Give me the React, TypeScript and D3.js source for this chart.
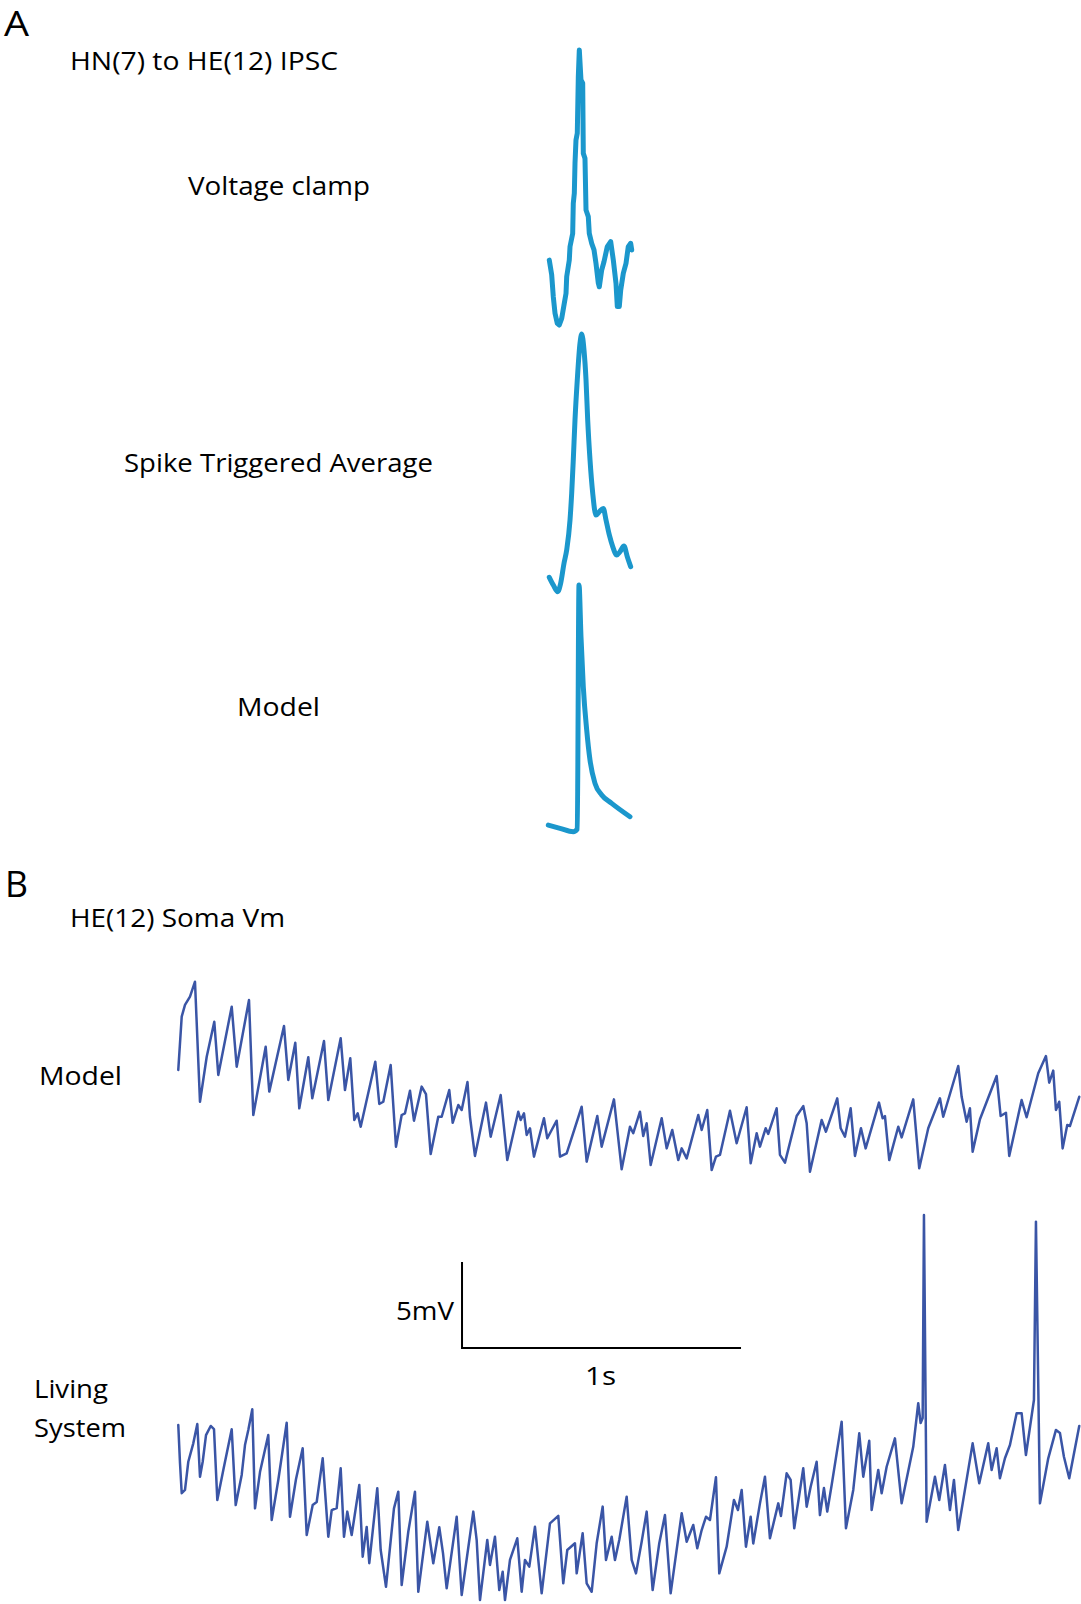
import React from "react";
import * as d3 from "d3";

// ---------- Panel A: HN(7) -> HE(12) IPSC (time in ms, normalized amplitude) ----------
const voltageClamp: [number, number][] = [
  [0.3, 0.236], [0.86, 0.182], [1.23, 0.103], [1.63, 0.043], [2.16, 0.006], [2.63, 0.0],
  [3.19, 0.024], [3.79, 0.079], [4.19, 0.115], [4.35, 0.176], [4.95, 0.236], [5.12, 0.285],
  [5.74, 0.333], [5.88, 0.443], [6.12, 0.479], [6.28, 0.588], [6.51, 0.673], [6.81, 0.697],
  [7.05, 0.903], [7.28, 1.0], [7.67, 0.891], [8.07, 0.879], [8.21, 0.624], [8.6, 0.606],
  [8.84, 0.418], [9.37, 0.394], [9.6, 0.333], [10.16, 0.297], [10.7, 0.273], [11.16, 0.224],
  [11.7, 0.152], [11.93, 0.139], [12.49, 0.2], [13.02, 0.23], [13.79, 0.285], [14.58, 0.303],
  [15.19, 0.236], [15.81, 0.152], [16.12, 0.067], [16.58, 0.067], [16.91, 0.127], [17.51, 0.188],
  [18.14, 0.224], [18.67, 0.285], [19.23, 0.297], [19.47, 0.273],
];

const spikeTriggeredAverage: [number, number][] = [
  [0.3, 0.057], [1.23, 0.027], [2.26, 0.001], [2.95, 0.034], [3.72, 0.111], [4.35, 0.163],
  [5.12, 0.279], [5.51, 0.383], [5.88, 0.512], [6.28, 0.667], [6.81, 0.822], [7.44, 0.964],
  [7.84, 1.0], [8.37, 0.938], [8.84, 0.822], [9.23, 0.667], [9.77, 0.512], [10.4, 0.383],
  [11.16, 0.298], [11.93, 0.311], [12.86, 0.324], [13.49, 0.279], [14.26, 0.221], [15.05, 0.176],
  [15.98, 0.143], [16.74, 0.156], [17.67, 0.178], [18.44, 0.137], [19.23, 0.098],
];

const modelIPSC: [number, number][] = [
  [0.07, 0.028], [2.79, 0.015], [5.88, 0.001], [6.81, 0.012], [7.21, 1.0], [7.67, 0.791],
  [8.21, 0.588], [9.0, 0.413], [9.77, 0.291], [10.93, 0.197], [12.49, 0.15], [14.81, 0.116],
  [19.07, 0.062],
];

// ---------- Panel B: HE(12) soma Vm (time in ms, membrane potential in mV) ----------
const modelVm: [number, number][] = [
  [1, -47.09], [13.3, -43.99], [25.1, -43.31], [43, -42.83], [60.9, -41.96], [78.8, -48.94],
  [102.9, -46.32], [130.1, -44.29], [144.4, -47.38], [192.5, -43.41], [210.4, -46.9], [254.5, -43.02],
  [269.9, -49.71], [314.3, -45.74], [327.2, -48.35], [379.9, -44.53], [395.3, -47.67], [420.4, -45.51],
  [434.7, -49.32], [467, -46.35], [481.3, -48.74], [523.3, -45.41], [538.7, -48.84], [583.1, -45.25],
  [598.5, -48.26], [617.5, -46.41], [631.9, -50.0], [644, -49.61], [654.8, -50.39], [707.1, -46.61],
  [721.5, -49.07], [735.8, -48.94], [762.3, -46.8], [781.3, -51.55], [801.7, -49.71], [813.6, -49.61],
  [831.5, -48.3], [845.8, -50.04], [873.4, -48.06], [888.8, -48.49], [905.7, -51.98], [932.9, -49.81],
  [945.1, -49.81], [972.3, -48.26], [984.5, -50.16], [1004.6, -49.13], [1016.8, -49.42], [1037.6, -47.79],
  [1046.5, -49.81], [1064.4, -52.09], [1103.9, -48.99], [1120.7, -50.97], [1156.6, -48.55], [1180.2, -52.33],
  [1219.6, -49.52], [1228.2, -50.0], [1240.1, -49.61], [1249.7, -50.87], [1261.6, -50.48], [1275.9, -52.13],
  [1311.7, -49.9], [1323.6, -51.06], [1339.3, -50.58], [1357.3, -50.04], [1369.1, -52.13], [1393.1, -51.94],
  [1446.9, -49.23], [1464.8, -52.42], [1502.8, -49.77], [1518.5, -51.55], [1562.6, -48.8], [1590.2, -52.87],
  [1620, -50.39], [1631.8, -50.77], [1655.8, -49.52], [1667.6, -50.93], [1679.8, -50.19], [1694.2, -52.62],
  [1733.6, -49.9], [1751.5, -51.65], [1771.6, -50.58], [1793.1, -52.33], [1805.3, -51.65], [1823.2, -52.23],
  [1864.8, -49.71], [1877, -50.58], [1897, -49.42], [1912.8, -52.91], [1928.2, -52.13], [1942.5, -52.03],
  [1978.4, -49.46], [2002.4, -51.35], [2038.2, -49.26], [2052.6, -52.52], [2074.1, -50.77], [2085.9, -51.55],
  [2106.3, -50.48], [2115.6, -50.81], [2145.7, -49.32], [2157.6, -52.03], [2175.5, -52.48], [2217.4, -49.77],
  [2241.1, -49.19], [2253.3, -50.19], [2265.1, -53.01], [2307, -50.0], [2322.4, -50.68], [2362.9, -48.74],
  [2375.1, -50.48], [2390.5, -50.97], [2411, -49.32], [2426.4, -52.09], [2447.9, -50.48], [2464.7, -51.65],
  [2512.4, -48.99], [2525.6, -49.9], [2533.9, -49.77], [2549.3, -52.33], [2581.6, -50.39], [2593.7, -51.01],
  [2635.3, -48.8], [2656.8, -52.81], [2689.1, -50.48], [2731, -48.74], [2742.8, -49.81], [2796.6, -46.86],
  [2808.8, -48.65], [2826.7, -50.1], [2838.5, -49.32], [2848.2, -51.84], [2874.4, -49.96], [2934.2, -47.44],
  [2948.6, -49.77], [2967.6, -49.58], [2979.4, -52.09], [3023.8, -48.84], [3041.7, -49.84], [3083.3, -47.28],
  [3110.9, -46.28], [3122.7, -47.83], [3137.1, -47.13], [3146.8, -49.42], [3158.6, -48.94], [3170.8, -51.65],
  [3187.3, -50.29], [3196.9, -50.35], [3230.3, -48.65],
];

const livingVm: [number, number][] = [
  [1, -43.31], [7.2, -45.54], [13.3, -47.28], [25.1, -47.09], [36.9, -45.45], [54.8, -44.38],
  [69.2, -43.26], [78.8, -46.32], [88.5, -45.45], [100.4, -43.9], [117.2, -43.37], [129, -43.55],
  [140.9, -47.67], [162.4, -45.93], [192.5, -43.56], [206.8, -47.97], [228.3, -46.22], [240.1, -44.48],
  [252, -43.6], [266.3, -42.4], [276, -48.16], [293.9, -46.05], [323.6, -43.9], [335.8, -48.84],
  [359.5, -46.51], [389.6, -43.18], [401.4, -48.65], [422.9, -46.47], [446.9, -44.67], [461.3, -49.71],
  [482.8, -47.97], [497.1, -47.79], [518.6, -45.25], [538.7, -49.81], [550.9, -48.26], [568.8, -48.14],
  [583.1, -45.83], [594.9, -49.81], [606.8, -48.35], [622.5, -49.71], [649.8, -46.8], [662, -50.97],
  [676.3, -49.24], [685.6, -51.35], [714.3, -46.99], [726.5, -50.58], [745.5, -52.72], [774.1, -48.16],
  [789.6, -47.19], [801.7, -52.62], [825.4, -49.52], [849.4, -47.19], [861.2, -53.01], [893.5, -48.94],
  [915, -51.35], [936.5, -49.26], [949.8, -50.76], [963, -52.81], [998.9, -48.65], [1016.8, -53.2],
  [1058.4, -48.35], [1070.5, -50.0], [1082.4, -53.49], [1108.5, -50.0], [1118.2, -51.45], [1136.1, -49.81],
  [1151.5, -52.91], [1163.7, -51.84], [1172, -53.49], [1189.9, -51.16], [1216.1, -49.9], [1231.8, -53.01],
  [1243.6, -51.16], [1259.1, -51.55], [1279.5, -49.23], [1303.5, -53.1], [1333.2, -49.03], [1363, -48.6],
  [1380.9, -52.52], [1395.3, -50.58], [1422.8, -50.19], [1429, -51.94], [1450.4, -49.61], [1464.8, -52.52],
  [1482.7, -53.01], [1500.6, -50.19], [1522.1, -48.06], [1534, -51.16], [1554.4, -49.81], [1566.2, -51.16],
  [1581.6, -50.0], [1608.1, -47.48], [1626.1, -51.16], [1641.5, -51.94], [1661.9, -50.1], [1679.8, -48.35],
  [1701.3, -52.91], [1725, -50.19], [1745.4, -48.55], [1765.8, -53.1], [1805.3, -48.45], [1823.2, -50.1],
  [1846.8, -49.13], [1861.2, -50.48], [1877, -49.42], [1892.4, -48.65], [1906.7, -48.84], [1928.2, -46.35],
  [1940, -51.94], [1966.5, -50.39], [1992.7, -47.67], [2007, -48.26], [2020.3, -47.09], [2035.7, -50.39],
  [2052.6, -48.65], [2061.9, -50.2], [2085.9, -47.87], [2103.8, -46.32], [2121.7, -49.9], [2151.5, -47.87],
  [2161.2, -48.6], [2181.6, -46.12], [2195.9, -46.51], [2208.8, -49.32], [2241.1, -45.83], [2253.3, -48.06],
  [2267.6, -46.9], [2289.1, -45.45], [2300.9, -48.55], [2315.3, -46.98], [2327.1, -48.35], [2342.9, -46.8],
  [2378.7, -43.12], [2394.1, -49.32], [2420.3, -47.09], [2441.8, -43.8], [2456.1, -46.32], [2477.6, -44.23],
  [2486.2, -48.26], [2509.9, -45.93], [2522.1, -47.28], [2540, -45.74], [2569.7, -44.09], [2593.7, -47.87],
  [2635.3, -44.58], [2653.2, -42.05], [2661.8, -43.2], [2669, -42.91], [2673.7, -31.1], [2683.3, -48.94],
  [2713.1, -46.32], [2728.5, -47.67], [2748.9, -45.64], [2766.8, -48.26], [2781.2, -46.51], [2796.6, -49.42],
  [2848.2, -44.38], [2871.9, -46.7], [2904.1, -44.38], [2916.3, -45.93], [2934.2, -44.67], [2946, -46.41],
  [2964, -45.25], [2981.9, -44.48], [3005.9, -42.63], [3023.8, -42.63], [3039.2, -45.06], [3067.9, -41.86],
  [3075.1, -31.49], [3089.4, -47.87], [3119.2, -45.25], [3146.8, -43.6], [3161.1, -43.78], [3175.4, -45.16],
  [3194.4, -46.41], [3230.3, -43.37],
];

// scale bar values
const scaleBarStartMs = 1018;
const scaleBarTimeMs = 1000;
const scaleBarBaseMv = -38.84;
const scaleBarVoltMv = 5;

const W = 1081;
const H = 1604;
const COLOR_A = "#1b97cc";
const COLOR_B = "#3a55a6";
const FONT = "'Open Sans', 'Noto Sans', sans-serif";

export default function App() {
  // Panel A scales
  const xA = d3.scaleLinear().domain([0, 20]).range([548, 634]);
  const yVC = d3.scaleLinear().domain([0, 1]).range([325, 50]);
  const ySTA = d3.scaleLinear().domain([0, 1]).range([592, 334]);
  const yMod = d3.scaleLinear().domain([0, 1]).range([832, 585]);

  // Panel B scales
  const xB = d3.scaleLinear().domain([0, 3233]).range([178, 1080]);
  const yModelB = d3.scaleLinear().domain([-55, -40]).range([1206, 948]);
  const yLiving = d3.scaleLinear().domain([-55, -30]).range([1626, 1196]);

  const lineA = (ys: d3.ScaleLinear<number, number>, curve = d3.curveLinear) =>
    d3
      .line<[number, number]>()
      .x((d) => xA(d[0]))
      .y((d) => ys(d[1]))
      .curve(curve);

  const lineB = (ys: d3.ScaleLinear<number, number>) =>
    d3
      .line<[number, number]>()
      .x((d) => xB(d[0]))
      .y((d) => ys(d[1]));

  const labels: { text: string; x: number; y: number; w: number; size: number }[] = [
    { text: "A", x: 4, y: 36, w: 25, size: 34 },
    { text: "HN(7) to HE(12) IPSC", x: 70, y: 70, w: 268, size: 26 },
    { text: "Voltage clamp", x: 188, y: 195, w: 182, size: 26 },
    { text: "Spike Triggered Average", x: 124, y: 472, w: 309, size: 26 },
    { text: "Model", x: 237, y: 716, w: 83, size: 26 },
    { text: "B", x: 5, y: 897, w: 23, size: 36 },
    { text: "HE(12) Soma Vm", x: 70, y: 927, w: 215, size: 26 },
    { text: "Model", x: 39, y: 1085, w: 83, size: 26 },
    { text: "5mV", x: 396, y: 1320, w: 58, size: 26 },
    { text: "1s", x: 585, y: 1385, w: 31, size: 26 },
    { text: "Living", x: 34, y: 1398, w: 74, size: 26 },
    { text: "System", x: 34, y: 1437, w: 92, size: 26 },
  ];

  const sbX0 = xB(scaleBarStartMs);
  const sbX1 = xB(scaleBarStartMs + scaleBarTimeMs);
  const sbY0 = yLiving(scaleBarBaseMv);
  const sbY1 = yLiving(scaleBarBaseMv + scaleBarVoltMv);

  return (
    <svg
      width={W}
      height={H}
      viewBox={`0 0 ${W} ${H}`}
      style={{ position: "absolute", left: 0, top: 0, background: "#fff" }}
    >
      <rect x={0} y={0} width={W} height={H} fill="#fff" />
      <g fill="none" strokeLinejoin="round" strokeLinecap="round">
        <path d={lineA(yVC)(voltageClamp) || ""} stroke={COLOR_A} strokeWidth={5} />
        <path
          d={lineA(ySTA, d3.curveMonotoneX)(spikeTriggeredAverage) || ""}
          stroke={COLOR_A}
          strokeWidth={5}
        />
        <path d={lineA(yMod, d3.curveMonotoneX)(modelIPSC) || ""} stroke={COLOR_A} strokeWidth={5} />
        <path d={lineB(yModelB)(modelVm) || ""} stroke={COLOR_B} strokeWidth={2.5} />
        <path d={lineB(yLiving)(livingVm) || ""} stroke={COLOR_B} strokeWidth={2.5} />
      </g>
      <path
        d={`M${sbX0},${sbY1}L${sbX0},${sbY0}L${sbX1},${sbY0}`}
        fill="none"
        stroke="#000"
        strokeWidth={2}
      />
      <g fontFamily={FONT} fill="#000">
        {labels.map((l, i) => (
          <text
            key={i}
            x={l.x}
            y={l.y}
            fontSize={l.size}
            textLength={l.w}
            lengthAdjust="spacingAndGlyphs"
          >
            {l.text}
          </text>
        ))}
      </g>
    </svg>
  );
}
